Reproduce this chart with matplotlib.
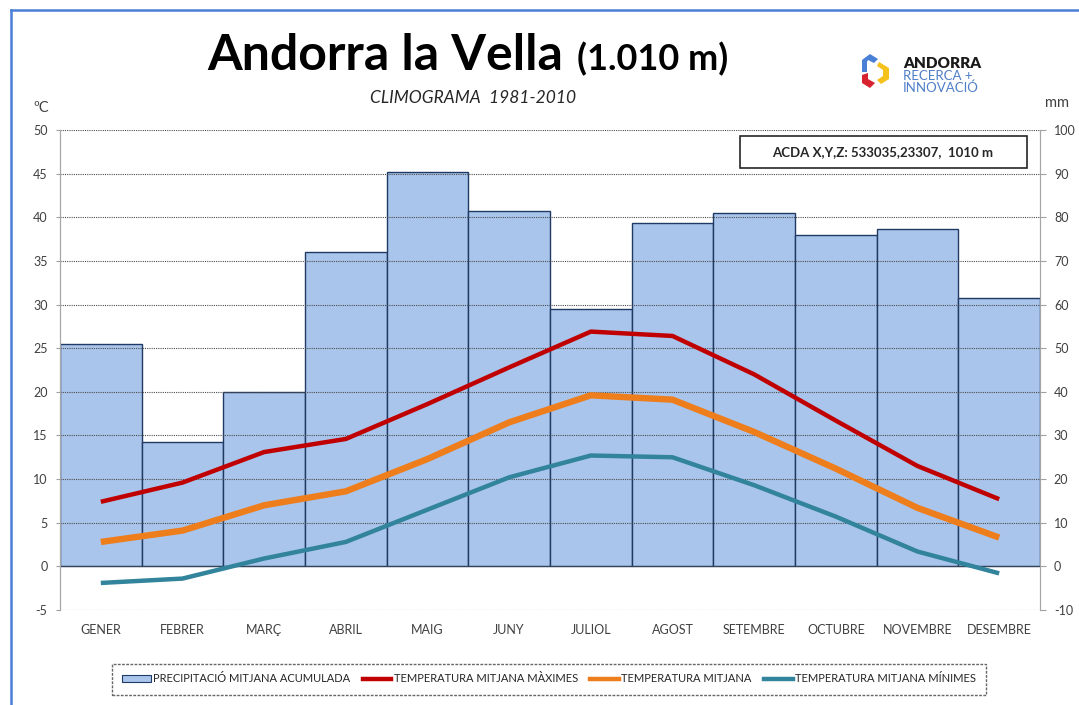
import numpy as np
import matplotlib
matplotlib.use("Agg")
from matplotlib import pyplot as plt
from matplotlib.patches import Rectangle, Polygon, Patch
from matplotlib.lines import Line2D

plt.rcParams['font.family'] = ['Lato', 'DejaVu Sans']
plt.rcParams['axes.unicode_minus'] = False

months = ['GENER', 'FEBRER', 'MARÇ', 'ABRIL', 'MAIG', 'JUNY',
          'JULIOL', 'AGOST', 'SETEMBRE', 'OCTUBRE', 'NOVEMBRE', 'DESEMBRE']
precip_mm = [51.0, 28.4, 40.0, 72.0, 90.4, 81.5, 59.0, 78.8, 81.0, 76.0, 77.4, 61.5]
t_max = [7.4, 9.6, 13.1, 14.6, 18.6, 22.8, 26.9, 26.4, 22.0, 16.7, 11.5, 7.7]
t_mean = [2.8, 4.1, 7.0, 8.6, 12.3, 16.5, 19.6, 19.1, 15.4, 11.2, 6.7, 3.3]
t_min = [-1.9, -1.4, 0.9, 2.8, 6.5, 10.2, 12.7, 12.5, 9.3, 5.7, 1.7, -0.8]

W, H = 1079, 705
fig = plt.figure(figsize=(W / 100, H / 100), dpi=100)


def fx(px):
    return px / W


def fy(py):
    return 1 - py / H


txt_col = '#404040'
grid_col = '#4d4d4d'

ax = fig.add_axes([fx(60), fy(610), fx(1040) - fx(60), fy(130) - fy(610)])
ax2 = ax.twinx()
ax.set_zorder(ax2.get_zorder() + 1)
ax.patch.set_visible(False)

x = np.arange(len(months))
ax2.bar(x, precip_mm, width=1.0, color='#a9c5eb', edgecolor='#1f3a64',
        linewidth=1.0)
ax2.set_ylim(-10, 100)
ax2.set_yticks(np.arange(-10, 101, 10))

ax.plot(x, t_max, color='#c00000', lw=3.2, solid_capstyle='butt')
ax.plot(x, t_mean, color='#ee7d1c', lw=4.6, solid_capstyle='butt')
ax.plot(x, t_min, color='#31849b', lw=3.2, solid_capstyle='butt')

ax.set_ylim(-5, 50)
ax.set_yticks(np.arange(-5, 51, 5))
ax.set_xlim(-0.5, 11.5)
ax.set_xticks(x)
ax.set_xticklabels(months)
ax.grid(axis='y', linestyle=(0, (1, 1)), color=grid_col, linewidth=0.8)
ax.tick_params(axis='x', length=0, pad=10, labelsize=9, labelcolor=txt_col)
ax.tick_params(axis='y', length=3, color='#a0a0a0', labelsize=9,
               labelcolor=txt_col, pad=6)
ax2.tick_params(axis='y', length=4, color='#a0a0a0', labelsize=9,
                labelcolor=txt_col, pad=6)

for a in (ax, ax2):
    a.spines['top'].set_visible(False)
    a.spines['bottom'].set_visible(False)
    a.spines['left'].set_color('#a6a6a6')
    a.spines['right'].set_color('#a6a6a6')

# units
fig.text(fx(33), fy(108), 'ºC', fontsize=10.5, color=txt_col, va='center')
fig.text(fx(1045), fy(103), 'mm', fontsize=10.5, color=txt_col, va='center')

# title
fig.text(fx(207), fy(70), 'Andorra la Vella', fontsize=36, fontweight='bold',
         va='baseline', ha='left')
fig.text(fx(577), fy(70), '(1.010 m)', fontsize=26, fontweight='bold',
         va='baseline', ha='left')
fig.text(fx(473), fy(98), 'CLIMOGRAMA  1981-2010', fontsize=12.5,
         fontstyle='italic', color='#262626', ha='center', va='center')

# station box
fig.patches.append(Rectangle((fx(740), fy(168)), fx(1027) - fx(740),
                             fy(136) - fy(168), transform=fig.transFigure,
                             facecolor='white', edgecolor='#262626', lw=1.2,
                             zorder=5))
fig.text(fx(883), fy(152), 'ACDA X,Y,Z: 533035,23307,  1010 m', fontsize=9.5,
         fontweight='bold', color='#262626', ha='center', va='center',
         zorder=6)

# logo
def poly(pts, color):
    fig.patches.append(Polygon([(fx(a), fy(b)) for a, b in pts], closed=True,
                               transform=fig.transFigure, facecolor=color,
                               edgecolor='none'))


poly([(862, 72), (862, 60), (870, 54), (878, 59), (874, 63), (868, 60),
      (867, 62), (867, 72)], '#4a7fd6')
poly([(879, 62), (889, 68), (889, 79), (881, 84), (877, 80), (883, 76),
      (883, 70), (877, 66)], '#f4c21a')
poly([(862, 75), (868, 73), (868, 79), (875, 83), (870, 88), (862, 83)],
     '#d7232f')
fig.text(fx(903), fy(63), 'ANDORRA', fontsize=11, fontweight='heavy',
         color='#1a1a1a', va='center')
fig.text(fx(903), fy(76), 'RECERCA +', fontsize=9.5, color='#4f7fc8',
         va='center')
fig.text(fx(903), fy(88), 'INNOVACIÓ', fontsize=9.5, color='#4f7fc8',
         va='center')

# outer border
fig.lines.append(Line2D([fx(11), fx(11)], [0, fy(10)], transform=fig.transFigure,
                        color='#4a7fd6', lw=1.8))
fig.lines.append(Line2D([fx(11), 1], [fy(10), fy(10)], transform=fig.transFigure,
                        color='#4a7fd6', lw=1.8))

# legend
handles = [
    Patch(facecolor='#a9c5eb', edgecolor='#1f3a64', linewidth=0.8),
    Line2D([], [], color='#c00000', lw=3.2),
    Line2D([], [], color='#ee7d1c', lw=3.2),
    Line2D([], [], color='#31849b', lw=3.2),
]
labels = ['PRECIPITACIÓ MITJANA ACUMULADA', 'TEMPERATURA MITJANA MÀXIMES',
          'TEMPERATURA MITJANA', 'TEMPERATURA MITJANA MÍNIMES']
leg = fig.legend(handles, labels, loc='center', bbox_to_anchor=(fx(549), fy(679)),
                 ncol=4, fontsize=8, frameon=True, fancybox=False,
                 handlelength=2.6, handleheight=0.5, handletextpad=0.2,
                 columnspacing=1.1, borderpad=0.9, labelcolor='#262626')
leg.get_frame().set_edgecolor('#404040')
leg.get_frame().set_linestyle((0, (2, 1)))
leg.get_frame().set_linewidth(1.0)

fig.savefig('out.png', dpi=100)
